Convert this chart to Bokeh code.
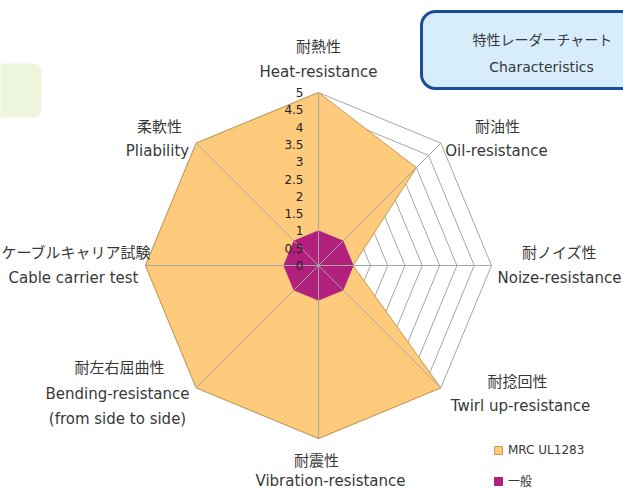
import math
from bokeh.plotting import figure
from bokeh.models import Range1d, Legend, LegendItem
from bokeh.core.properties import value
from bokeh.embed import file_html
from bokeh.resources import INLINE

# ---------------- data ----------------
categories_jp = ["耐熱性", "耐油性", "耐ノイズ性", "耐捻回性", "耐震性", "耐左右屈曲性", "ケーブルキャリア試験", "柔軟性"]
categories_en = [["Heat-resistance"], ["Oil-resistance"], ["Noize-resistance"], ["Twirl up-resistance"],
                 ["Vibration-resistance"], ["Bending-resistance", "(from side to side)"],
                 ["Cable carrier test"], ["Pliability"]]
mrc_values = [5, 4, 1, 5, 5, 5, 5, 5]
general_values = [1, 1, 1, 1, 1, 1, 1, 1]
series_names = ["MRC UL1283", "一般"]
tick_values = [0, 0.5, 1, 1.5, 2, 2.5, 3, 3.5, 4, 4.5, 5]
tick_labels = ["0", "0.5", "1", "1.5", "2", "2.5", "3", "3.5", "4", "4.5", "5"]
title_jp = "特性レーダーチャート"
title_en = "Characteristics"

# ---------------- layout ----------------
W, H = 623, 489
CX, CY = 318, 265   # picture coords of radar centre
S = 34.6            # pixels per value unit
JPF = "Noto Sans CJK JP"
ENF = "DejaVu Sans"
TXT = "#383838"
GRID = "#a6a6a6"

def P(x, y):
    return ((x - CX) / S, (CY - y) / S)

jp_pos = [(318, 45), (497, 125), (559, 251), (517, 380), (316, 459), (119, 366), (76, 251), (159, 125)]
en_pos = [[(318, 71)], [(496, 150)], [(559, 277)], [(520, 405)], [(330, 480)],
          [(117, 393), (117, 418)], [(73, 277)], [(157, 150)]]

n = len(categories_jp)
angles = [math.pi / 2 - i * 2 * math.pi / n for i in range(n)]

def poly(vals):
    xs = [v * math.cos(a) for v, a in zip(vals, angles)]
    ys = [v * math.sin(a) for v, a in zip(vals, angles)]
    return xs, ys

x0, y0 = P(0, H)
x1, y1 = P(W, 0)
p = figure(width=W, height=H, x_range=Range1d(x0, x1), y_range=Range1d(y0, y1),
           output_backend="svg", toolbar_location=None, min_border=0,
           background_fill_color="white", border_fill_color="white")
p.axis.visible = False
p.grid.visible = False
p.outline_line_color = None

# decorative boxes
gl, gt = P(-20, 63)
gr, gb = P(41, 117)
p.quad(left=[gl], right=[gr], top=[gt], bottom=[gb], fill_color="#eef5dd",
       line_color=None, border_radius=8)
tl, tt = P(421, 11)
tr, tb = P(660, 88)
p.quad(left=[tl], right=[tr], top=[tt], bottom=[tb], fill_color="#d7edfb",
       line_color="#1c4c9c", line_width=3, border_radius=14)
jx, jy = P(542, 38)
ex, ey = P(541, 66)
p.text(x=[jx], y=[jy], text=[title_jp], text_align="center", text_baseline="middle",
       text_font=value(JPF), text_font_size="14px", text_color=TXT)
p.text(x=[ex], y=[ey], text=[title_en], text_align="center", text_baseline="middle",
       text_font=value(ENF), text_font_size="14px", text_color=TXT)

# grid rings
for t in tick_values[1:]:
    xs, ys = poly([t] * n)
    p.line(xs + [xs[0]], ys + [ys[0]], line_color=GRID, line_width=1)

# series
mx, my = poly(mrc_values)
r1 = p.patch(mx, my, fill_color="#fdcb7b", line_color="#c9984f", line_width=1)
gx, gy = poly(general_values)
r2 = p.patch(gx, gy, fill_color="#b0207c", line_color="#b0207c", line_width=1)

# spokes
for a in angles:
    p.line([0, 5 * math.cos(a)], [0, 5 * math.sin(a)], line_color=GRID, line_width=1)

# tick labels
tick_x = P(303, 0)[0]
p.text(x=[tick_x] * len(tick_values), y=tick_values, text=tick_labels, text_align="right",
       text_baseline="middle", text_font=value(ENF), text_font_size="12px", text_color="#222222")

# category labels
jxs, jys = zip(*[P(*q) for q in jp_pos])
p.text(x=list(jxs), y=list(jys), text=categories_jp, text_align="center", text_baseline="middle",
       text_font=value(JPF), text_font_size="15px", text_color=TXT)
lx, ly, lt = [], [], []
for en, pos in zip(categories_en, en_pos):
    for s, q in zip(en, pos):
        X, Y = P(*q)
        lx.append(X); ly.append(Y); lt.append(s)
p.text(x=lx, y=ly, text=lt, text_align="center", text_baseline="middle",
       text_font=value(ENF), text_font_size="15px", text_color=TXT)

legend = Legend(items=[LegendItem(label=series_names[0], renderers=[r1]),
                       LegendItem(label=series_names[1], renderers=[r2])],
                location=(493, 0), orientation="vertical", padding=0, margin=0,
                spacing=15, glyph_width=10, glyph_height=10, label_height=12,
                label_standoff=5, border_line_color=None, background_fill_alpha=0,
                label_text_font=ENF + ", " + JPF, label_text_font_size="12px", label_text_color=TXT)
p.add_layout(legend)

open("out.html", "w").write(file_html(p, INLINE))
